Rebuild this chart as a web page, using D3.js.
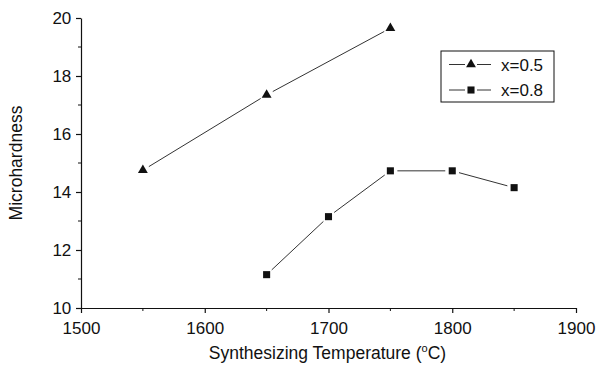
<!DOCTYPE html>
<html><head><meta charset="utf-8">
<script src="https://cdn.jsdelivr.net/npm/d3@7"></script>
<style>body{margin:0;background:#fff}svg{display:block}text{font-family:"Liberation Sans",Arial,sans-serif;fill:#111}</style>
</head><body><svg id="c" width="598" height="372"></svg>
<script>
const temps05 = [1550, 1650, 1750];
const hard05 = [14.75, 17.35, 19.65];
const temps08 = [1650, 1700, 1750, 1800, 1850];
const hard08 = [11.15, 13.15, 14.73, 14.73, 14.15];
const xTicks = [1500, 1600, 1700, 1800, 1900];
const yTicks = [10, 12, 14, 16, 18, 20];
const seriesNames = ["x=0.5", "x=0.8"];

const svg = d3.select("#c");
const x = d3.scaleLinear().domain([1500, 1900]).range([81, 576]);
const y = d3.scaleLinear().domain([10, 20]).range([308, 18]);
const ink = "#111";

// axes
const gx = svg.append("g").attr("transform", `translate(0,${y(10)})`)
  .call(d3.axisBottom(x).tickValues(xTicks).tickSize(5).tickSizeOuter(0).tickFormat(d3.format("d")));
const gy = svg.append("g").attr("transform", `translate(${x(1500)},0)`)
  .call(d3.axisLeft(y).tickValues(yTicks).tickSize(5).tickSizeOuter(0));
[gx, gy].forEach(g => {
  g.select(".domain").attr("stroke", ink).attr("stroke-width", 1.2);
  g.selectAll(".tick line").attr("stroke", ink).attr("stroke-width", 1.2);
  g.selectAll(".tick text").attr("font-size", 17).attr("font-family", '"Liberation Sans",Arial,sans-serif').attr("fill", ink);
});
gx.selectAll(".tick text").attr("dy", "1.05em");
gy.selectAll(".tick text").attr("dx", "-0.1em");
// minor ticks
const xMinor = d3.range(1550, 1900, 100);
svg.append("g").selectAll("line").data(xMinor).join("line")
  .attr("x1", d => x(d)).attr("x2", d => x(d)).attr("y1", y(10)).attr("y2", y(10) + 3)
  .attr("stroke", ink).attr("stroke-width", 1);
const yMinor = d3.range(11, 20, 2);
svg.append("g").selectAll("line").data(yMinor).join("line")
  .attr("x1", x(1500)).attr("x2", x(1500) - 3).attr("y1", d => y(d)).attr("y2", d => y(d))
  .attr("stroke", ink).attr("stroke-width", 1);

// axis titles
svg.append("text").attr("x", (x(1500) + x(1900)) / 2 - 1).attr("y", 359).attr("text-anchor", "middle")
  .attr("font-size", 17.5)
  .html('Synthesizing Temperature (<tspan font-size="11" dy="-7">o</tspan><tspan dy="7">C)</tspan>');
svg.append("text").attr("transform", `translate(22,${(y(10) + y(20)) / 2}) rotate(-90)`)
  .attr("text-anchor", "middle").attr("font-size", 17.5).text("Microhardness");

// lines with gaps near markers
function segs(xs, ys, gap) {
  const out = [];
  for (let i = 0; i < xs.length - 1; i++) {
    const x1 = x(xs[i]), y1 = y(ys[i]), x2 = x(xs[i + 1]), y2 = y(ys[i + 1]);
    const L = Math.hypot(x2 - x1, y2 - y1), ux = (x2 - x1) / L, uy = (y2 - y1) / L;
    out.push([x1 + ux * gap, y1 + uy * gap, x2 - ux * gap, y2 - uy * gap]);
  }
  return out;
}
function drawLine(xs, ys) {
  svg.append("g").selectAll("line").data(segs(xs, ys, 7)).join("line")
    .attr("x1", d => d[0]).attr("y1", d => d[1]).attr("x2", d => d[2]).attr("y2", d => d[3])
    .attr("stroke", "#333").attr("stroke-width", 1);
}
drawLine(temps05, hard05);
drawLine(temps08, hard08);
const tri = d3.symbol().type(d3.symbolTriangle).size(42);
const sq = d3.symbol().type(d3.symbolSquare).size(50);
svg.append("g").selectAll("path").data(temps05.map((t, i) => [t, hard05[i]])).join("path")
  .attr("d", tri).attr("transform", d => `translate(${x(d[0])},${y(d[1])})`).attr("fill", ink);
svg.append("g").selectAll("path").data(temps08.map((t, i) => [t, hard08[i]])).join("path")
  .attr("d", sq).attr("transform", d => `translate(${x(d[0])},${y(d[1])})`).attr("fill", ink);

// legend
const lg = svg.append("g");
lg.append("rect").attr("x", 441).attr("y", 51).attr("width", 113).attr("height", 51)
  .attr("fill", "#fff").attr("stroke", ink).attr("stroke-width", 1);
const rows = [{name: seriesNames[0], sym: tri, cy: 64.5}, {name: seriesNames[1], sym: sq, cy: 90}];
rows.forEach(r => {
  lg.append("line").attr("x1", 449).attr("x2", 465).attr("y1", r.cy).attr("y2", r.cy).attr("stroke", "#333");
  lg.append("line").attr("x1", 477).attr("x2", 491).attr("y1", r.cy).attr("y2", r.cy).attr("stroke", "#333");
  lg.append("path").attr("d", r.sym).attr("transform", `translate(471,${r.cy})`).attr("fill", ink);
  lg.append("text").attr("x", 501).attr("y", r.cy + 6).attr("font-size", 17).text(r.name);
});
</script></body></html>
